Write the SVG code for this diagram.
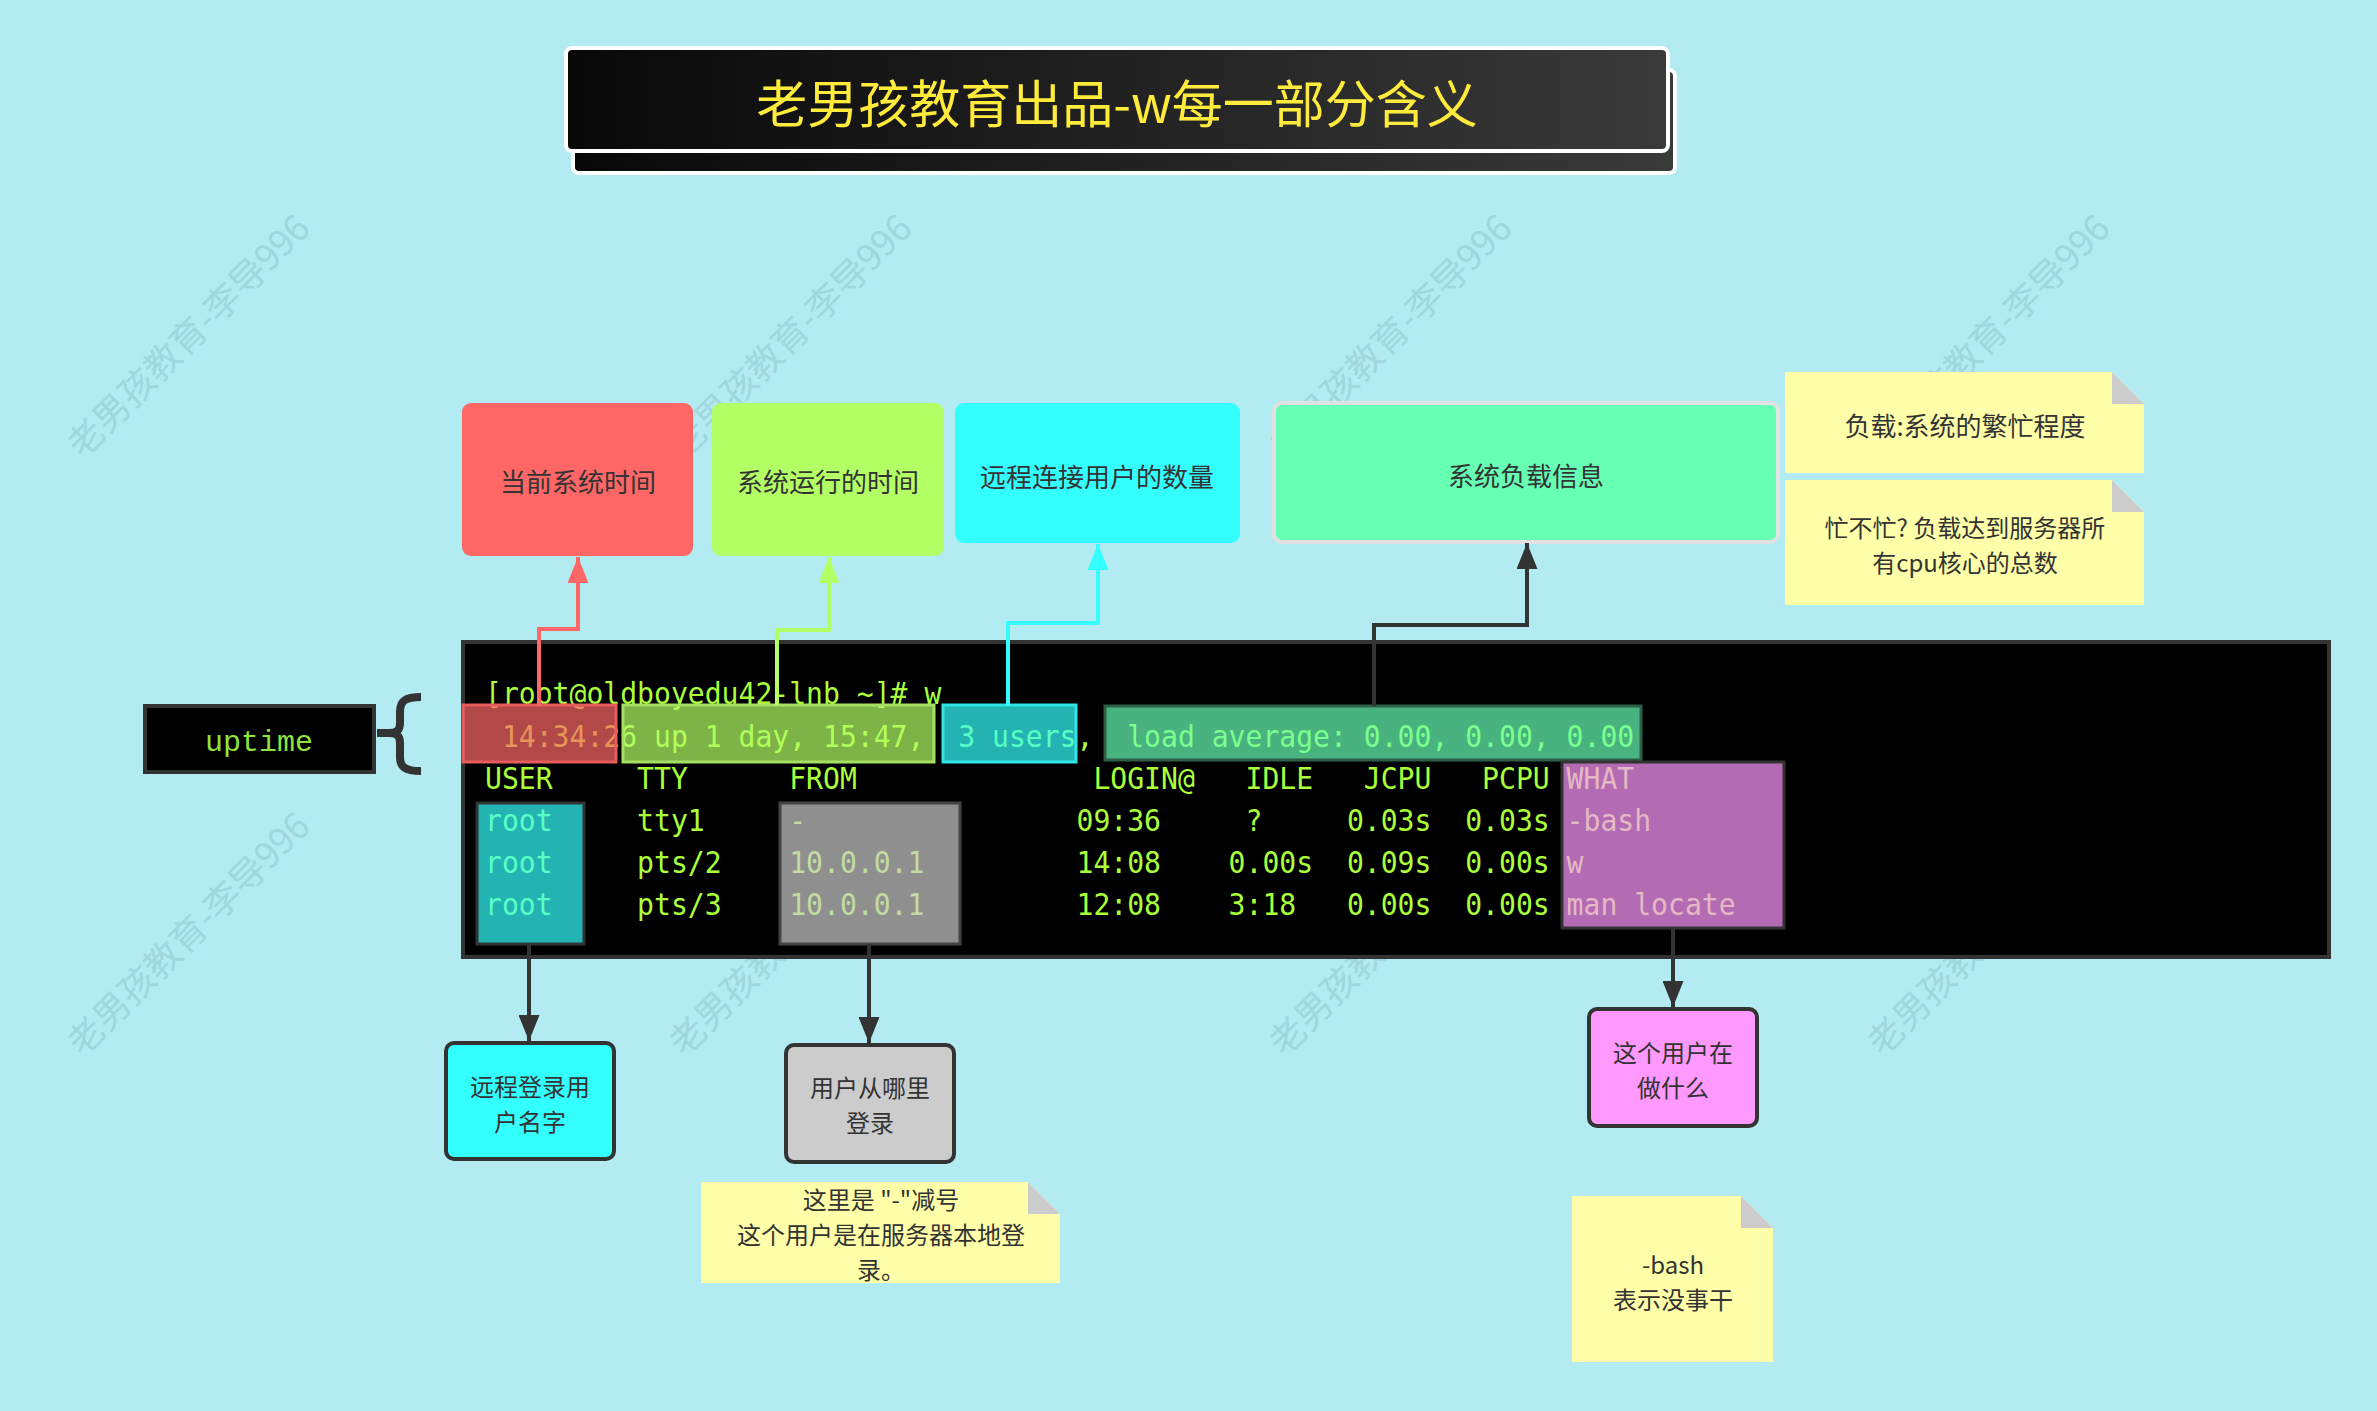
<svg xmlns="http://www.w3.org/2000/svg" width="2377" height="1411" viewBox="0 0 2377 1411">
<defs>
<style>
.cjk{font-family:'Noto Sans CJK SC','Noto Sans',sans-serif}
.nt{font-family:'Noto Sans CJK SC','Noto Sans',sans-serif;font-size:26px;fill:#333;text-anchor:middle;dominant-baseline:central}
.ml{font-size:24px}
.term{font-family:'DejaVu Sans Mono',monospace;font-size:30px;fill:#AAFF3A}
.wm{font-family:'Noto Sans CJK SC',sans-serif;font-size:36px;fill:#A0D6DD;text-anchor:middle;dominant-baseline:central}
.note{fill:#FFFFAA}
.fold{fill:#CCCCCC}
.conn{fill:none;stroke-width:4}
.box{stroke:#333;stroke-width:4}
.ov{fill-opacity:0.7;stroke-width:3}
</style>
<linearGradient id="tg" x1="0" y1="0" x2="1" y2="0"><stop offset="0" stop-color="#080808"/><stop offset="1" stop-color="#3a3a3a"/></linearGradient>
<marker id="aRed" viewBox="0 0 26 21" refX="26" refY="10.5" markerWidth="26" markerHeight="21" markerUnits="userSpaceOnUse" orient="auto"><path d="M0,0 L26,10.5 L0,21 z" fill="#FF6666"/></marker>
<marker id="aGreen" viewBox="0 0 26 21" refX="26" refY="10.5" markerWidth="26" markerHeight="21" markerUnits="userSpaceOnUse" orient="auto"><path d="M0,0 L26,10.5 L0,21 z" fill="#B3FF66"/></marker>
<marker id="aCyan" viewBox="0 0 26 21" refX="26" refY="10.5" markerWidth="26" markerHeight="21" markerUnits="userSpaceOnUse" orient="auto"><path d="M0,0 L26,10.5 L0,21 z" fill="#33FFFF"/></marker>
<marker id="aDark" viewBox="0 0 26 21" refX="26" refY="10.5" markerWidth="26" markerHeight="21" markerUnits="userSpaceOnUse" orient="auto"><path d="M0,0 L26,10.5 L0,21 z" fill="#333"/></marker>
</defs>
<rect x="0" y="0" width="2377" height="1411" fill="#B2EBF2"/>
<g id="watermarks">
<text class="wm" x="186" y="334" transform="rotate(-45 186 334)">老男孩教育-李导996</text>
<text class="wm" x="788" y="334" transform="rotate(-45 788 334)">老男孩教育-李导996</text>
<text class="wm" x="1388" y="334" transform="rotate(-45 1388 334)">老男孩教育-李导996</text>
<text class="wm" x="1986" y="334" transform="rotate(-45 1986 334)">老男孩教育-李导996</text>
<text class="wm" x="186" y="932" transform="rotate(-45 186 932)">老男孩教育-李导996</text>
<text class="wm" x="788" y="932" transform="rotate(-45 788 932)">老男孩教育-李导996</text>
<text class="wm" x="1388" y="932" transform="rotate(-45 1388 932)">老男孩教育-李导996</text>
<text class="wm" x="1986" y="932" transform="rotate(-45 1986 932)">老男孩教育-李导996</text>
</g>
<g id="title">
<rect x="573" y="70" width="1102" height="103" rx="6" fill="url(#tg)" stroke="#fff" stroke-width="4"/>
<rect x="566" y="48" width="1102" height="103" rx="6" fill="url(#tg)" stroke="#fff" stroke-width="4"/>
<text class="cjk" x="1117" y="101" font-size="51" fill="#FFEB3B" text-anchor="middle" dominant-baseline="central">老男孩教育出品-w每一部分含义</text>
</g>
<g id="node-current-time">
<rect x="462" y="403" width="231" height="153" rx="9" fill="#FF6666"/>
<text class="nt" x="578" y="480">当前系统时间</text>
</g>
<g id="node-uptime-duration">
<rect x="712" y="403" width="232" height="153" rx="9" fill="#B3FF66"/>
<text class="nt" x="828" y="480">系统运行的时间</text>
</g>
<g id="node-users">
<rect x="955" y="403" width="285" height="140" rx="9" fill="#33FFFF"/>
<text class="nt" x="1097" y="475">远程连接用户的数量</text>
</g>
<g id="node-load">
<rect x="1274" y="403" width="504" height="139" rx="8" fill="#66FFB3" stroke="#E2E2E2" stroke-width="4"/>
<text class="nt" x="1526" y="474">系统负载信息</text>
</g>
<g id="note-load">
<polygon class="note" points="1785,372 2112,372 2144,404 2144,473 1785,473"/>
<polygon class="fold" points="2112,372 2144,404 2112,404"/>
<text class="nt" x="1965" y="424">负载:系统的繁忙程度</text>
</g>
<g id="note-busy">
<polygon class="note" points="1785,480 2112,480 2144,512 2144,605 1785,605"/>
<polygon class="fold" points="2112,480 2144,512 2112,512"/>
<text class="nt ml" x="1965" y="526">忙不忙? 负载达到服务器所<tspan x="1965" dy="35">有cpu核心的总数</tspan></text>
</g>
<g id="node-uptime">
<rect x="145" y="706" width="229" height="66" fill="#000" class="box"/>
<text x="259" y="751" font-family="'Liberation Mono',monospace" font-size="30" fill="#8FE33A" text-anchor="middle">uptime</text>
<path d="M377 733 L392 733" stroke="#333" stroke-width="8" fill="none"/>
<path d="M421 697 C405 697 400 701 400 712 L400 723 C400 730 397 733 389 733 C397 733 400 736 400 743 L400 757 C400 767 405 771 421 771" stroke="#333" stroke-width="8" fill="none"/>
</g>
<g id="terminal">
<rect x="463" y="642" width="1866" height="315" fill="#000" class="box"/>
<g class="term" transform="translate(-4 0)">
<text x="489" y="704" textLength="456.3" lengthAdjust="spacingAndGlyphs">[root@oldboyedu42-lnb ~]# w</text>
<text x="505.9" y="747" textLength="422.5" lengthAdjust="spacingAndGlyphs">14:34:26 up 1 day, 15:47,</text>
<text x="962.2" y="747" textLength="135.2" lengthAdjust="spacingAndGlyphs">3 users,</text>
<text x="1131.2" y="747" textLength="507" lengthAdjust="spacingAndGlyphs">load average: 0.00, 0.00, 0.00</text>
<text x="489" y="789" textLength="67.6" lengthAdjust="spacingAndGlyphs">USER</text>
<text x="641.1" y="789" textLength="50.7" lengthAdjust="spacingAndGlyphs">TTY</text>
<text x="793.2" y="789" textLength="67.6" lengthAdjust="spacingAndGlyphs">FROM</text>
<text x="1097.4" y="789" textLength="101.4" lengthAdjust="spacingAndGlyphs">LOGIN@</text>
<text x="1249.5" y="789" textLength="67.6" lengthAdjust="spacingAndGlyphs">IDLE</text>
<text x="1367.8" y="789" textLength="67.6" lengthAdjust="spacingAndGlyphs">JCPU</text>
<text x="1486.1" y="789" textLength="67.6" lengthAdjust="spacingAndGlyphs">PCPU</text>
<text x="1570.6" y="789" textLength="67.6" lengthAdjust="spacingAndGlyphs">WHAT</text>
<text x="489" y="831" textLength="67.6" lengthAdjust="spacingAndGlyphs">root</text>
<text x="641.1" y="831" textLength="67.6" lengthAdjust="spacingAndGlyphs">tty1</text>
<text x="793.2" y="831" textLength="16.9" lengthAdjust="spacingAndGlyphs">-</text>
<text x="1080.5" y="831" textLength="84.5" lengthAdjust="spacingAndGlyphs">09:36</text>
<text x="1249.5" y="831" textLength="16.9" lengthAdjust="spacingAndGlyphs">?</text>
<text x="1350.9" y="831" textLength="84.5" lengthAdjust="spacingAndGlyphs">0.03s</text>
<text x="1469.2" y="831" textLength="84.5" lengthAdjust="spacingAndGlyphs">0.03s</text>
<text x="1570.6" y="831" textLength="84.5" lengthAdjust="spacingAndGlyphs">-bash</text>
<text x="489" y="873" textLength="67.6" lengthAdjust="spacingAndGlyphs">root</text>
<text x="641.1" y="873" textLength="84.5" lengthAdjust="spacingAndGlyphs">pts/2</text>
<text x="793.2" y="873" textLength="135.2" lengthAdjust="spacingAndGlyphs">10.0.0.1</text>
<text x="1080.5" y="873" textLength="84.5" lengthAdjust="spacingAndGlyphs">14:08</text>
<text x="1232.6" y="873" textLength="84.5" lengthAdjust="spacingAndGlyphs">0.00s</text>
<text x="1350.9" y="873" textLength="84.5" lengthAdjust="spacingAndGlyphs">0.09s</text>
<text x="1469.2" y="873" textLength="84.5" lengthAdjust="spacingAndGlyphs">0.00s</text>
<text x="1570.6" y="873" textLength="16.9" lengthAdjust="spacingAndGlyphs">w</text>
<text x="489" y="915" textLength="67.6" lengthAdjust="spacingAndGlyphs">root</text>
<text x="641.1" y="915" textLength="84.5" lengthAdjust="spacingAndGlyphs">pts/3</text>
<text x="793.2" y="915" textLength="135.2" lengthAdjust="spacingAndGlyphs">10.0.0.1</text>
<text x="1080.5" y="915" textLength="84.5" lengthAdjust="spacingAndGlyphs">12:08</text>
<text x="1232.6" y="915" textLength="67.6" lengthAdjust="spacingAndGlyphs">3:18</text>
<text x="1350.9" y="915" textLength="84.5" lengthAdjust="spacingAndGlyphs">0.00s</text>
<text x="1469.2" y="915" textLength="84.5" lengthAdjust="spacingAndGlyphs">0.00s</text>
<text x="1570.6" y="915" textLength="169" lengthAdjust="spacingAndGlyphs">man locate</text>
</g>
<rect class="ov" x="463" y="705" width="153" height="57" fill="#FF6666" stroke="#E85C5C"/>
<rect class="ov" x="623" y="705" width="311" height="57" fill="#B3FF66" stroke="#A6E060"/>
<rect class="ov" x="943" y="705" width="133" height="57" fill="#33FFFF" stroke="#2EE6E6"/>
<rect class="ov" x="1105" y="706" width="536" height="54" fill="#66FFB3" stroke="#2F5E48"/>
<rect class="ov" x="477" y="803" width="107" height="141" fill="#33FFFF" stroke="#333"/>
<rect class="ov" x="780" y="803" width="180" height="141" fill="#CCCCCC" stroke="#444"/>
<rect class="ov" x="1562" y="762" width="222" height="166" fill="#FF99FF" stroke="#333"/>
</g>
<g id="connectors">
<path class="conn" d="M539 705 V629 H578 V557" stroke="#FF6666" marker-end="url(#aRed)"/>
<path class="conn" d="M777 705 V630 H829 V557" stroke="#B3FF66" marker-end="url(#aGreen)"/>
<path class="conn" d="M1008 705 V623 H1098 V544" stroke="#33FFFF" marker-end="url(#aCyan)"/>
<path class="conn" d="M1374 706 V625 H1527 V543" stroke="#333" marker-end="url(#aDark)"/>
<path class="conn" d="M529 944 V1041" stroke="#333" marker-end="url(#aDark)"/>
<path class="conn" d="M869 944 V1043" stroke="#333" marker-end="url(#aDark)"/>
<path class="conn" d="M1673 928 V1007" stroke="#333" marker-end="url(#aDark)"/>
</g>
<g id="node-remote-user">
<rect x="446" y="1043" width="168" height="116" rx="8" fill="#33FFFF" class="box"/>
<text class="nt ml" x="530" y="1085">远程登录用<tspan x="530" dy="35">户名字</tspan></text>
</g>
<g id="node-from">
<rect x="786" y="1045" width="168" height="117" rx="8" fill="#CCCCCC" class="box"/>
<text class="nt ml" x="870" y="1086">用户从哪里<tspan x="870" dy="35">登录</tspan></text>
</g>
<g id="node-what">
<rect x="1589" y="1009" width="168" height="117" rx="8" fill="#FF99FF" class="box"/>
<text class="nt ml" x="1673" y="1051">这个用户在<tspan x="1673" dy="35">做什么</tspan></text>
</g>
<g id="note-local">
<polygon class="note" points="701,1182 1028,1182 1060,1214 1060,1283 701,1283"/>
<polygon class="fold" points="1028,1182 1060,1214 1028,1214"/>
<text class="nt ml" x="881" y="1198">这里是 "-"减号<tspan x="881" dy="35">这个用户是在服务器本地登</tspan><tspan x="881" dy="35">录。</tspan></text>
</g>
<g id="note-bash">
<polygon class="note" points="1572,1196 1741,1196 1773,1228 1773,1362 1572,1362"/>
<polygon class="fold" points="1741,1196 1773,1228 1741,1228"/>
<text class="nt ml" x="1673" y="1263">-bash<tspan x="1673" dy="35">表示没事干</tspan></text>
</g>
</svg>
